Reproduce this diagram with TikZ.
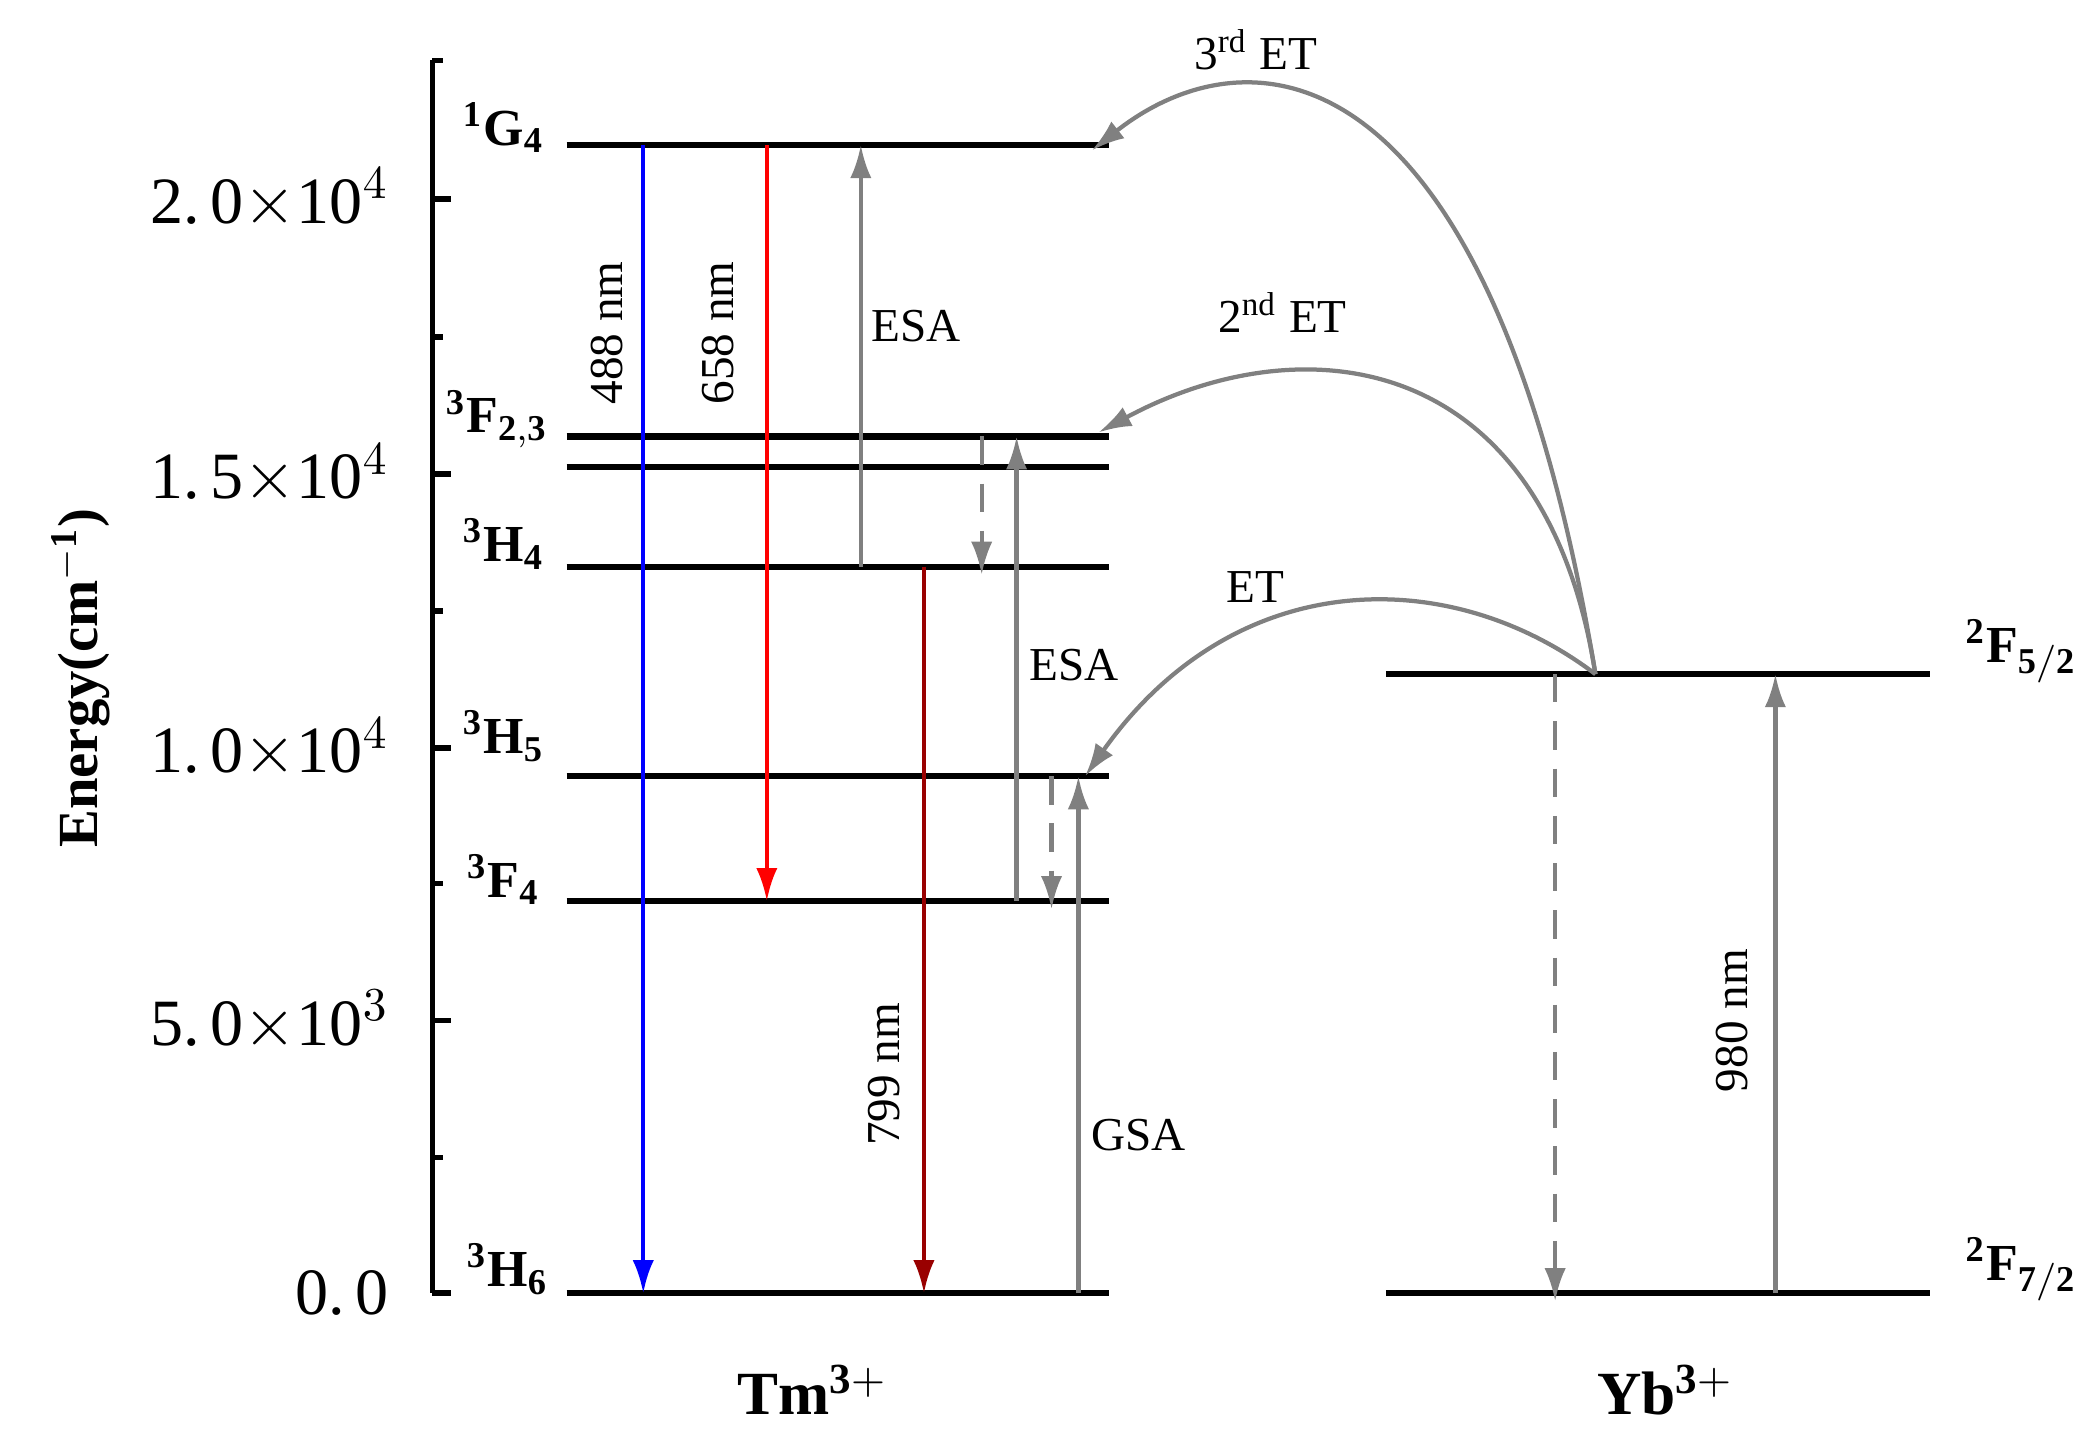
\documentclass[tikz,border=0pt]{standalone}
\usepackage{fontspec}
\setmainfont{Liberation Serif}
\usetikzlibrary{arrows.meta}
\definecolor{ag}{RGB}{128,128,128}
\begin{document}
\begin{tikzpicture}[x=0.01cm,y=-0.01cm,
 lev/.style={line width=1.3pt},
 ar/.style={line width=0.9pt,-{Latex[length=7pt,width=4.5pt]}},
 ga/.style={ar,draw=ag},
 gd/.style={ga,dashed,dash pattern=on 6pt off 4pt},
 lb/.style={font=\fontsize{11}{11}\selectfont\bfseries},
 tx/.style={font=\fontsize{10}{10}\selectfont},
 tk/.style={font=\fontsize{14}{14}\selectfont,anchor=east}]
\useasboundingbox (0,0) rectangle (1560,1077);
% axis
\draw[line width=1.2pt] (322,45) -- (322,963);
\foreach \y in {963,760,557,353,148} \draw[line width=1.2pt] (322,\y) -- (336,\y);
\foreach \y in {862,658,455,251,45} \draw[line width=1.2pt] (322,\y) -- (330,\y);
\node[tk] (t0) at (302,963) {0.\,0};
\node[tk] (t1) at (302,760) {5.\,0$\times$10$^3$};
\node[tk] (t2) at (302,557) {1.\,0$\times$10$^4$};
\node[tk] (t3) at (302,353) {1.\,5$\times$10$^4$};
\node[tk] (t4) at (302,148) {2.\,0$\times$10$^4$};
\node[rotate=90,font=\fontsize{12}{12}\selectfont\bfseries] (ax) at (60,505) {Energy(cm$^{\mathbf{-1}}$)};
% levels
\foreach \n/\y in {g/108,fa/325,fb/348,h4/422,h5/578,f4/671,h6/963}
 {\coordinate (\n L) at (422,\y); \coordinate (\n R) at (826,\y); \draw[lev] (\n L) -- (\n R);}
\coordinate (yuL) at (1032,502); \coordinate (yuR) at (1437,502);
\coordinate (ydL) at (1032,963); \coordinate (ydR) at (1437,963);
\draw[lev] (yuL) -- (yuR); \draw[lev] (ydL) -- (ydR);
% level labels
\node[lb] (l1) at (375,95) {$^{\mathbf 1}$G$_{\mathbf 4}$};
\node[lb] (l2) at (370,312) {$^{\mathbf 3}$F$_{\mathbf{2,3}}$};
\node[lb] (l3) at (375,405) {$^{\mathbf 3}$H$_{\mathbf 4}$};
\node[lb] (l4) at (375,548) {$^{\mathbf 3}$H$_{\mathbf 5}$};
\node[lb] (l5) at (375,655) {$^{\mathbf 3}$F$_{\mathbf 4}$};
\node[lb] (l6) at (378,945) {$^{\mathbf 3}$H$_{\mathbf 6}$};
\node[lb] (l7) at (1505,485) {$^{\mathbf 2}$F$_{\mathbf{5/2}}$};
\node[lb] (l8) at (1505,945) {$^{\mathbf 2}$F$_{\mathbf{7/2}}$};
\node[font=\fontsize{13}{13}\selectfont\bfseries] (tm) at (605,1035) {Tm$^{\mathbf{3+}}$};
\node[font=\fontsize{13}{13}\selectfont\bfseries] (yb) at (1240,1035) {Yb$^{\mathbf{3+}}$};
% coordinates for arrows
\coordinate (a1) at (479,108); \coordinate (a2) at (479,963);
\coordinate (b1) at (571,108); \coordinate (b2) at (571,671);
\coordinate (c1) at (641,422); \coordinate (c2) at (641,108);
\coordinate (d1) at (688,422); \coordinate (d2) at (688,963);
\coordinate (e1) at (731,325); \coordinate (e2) at (731,428);
\coordinate (f1) at (757,671); \coordinate (f2) at (757,325);
\coordinate (g1) at (783,578); \coordinate (g2) at (783,677);
\coordinate (h1) at (803,963); \coordinate (h2) at (803,578);
\coordinate (i1) at (1158,502); \coordinate (i2) at (1158,969);
\coordinate (j1) at (1322,963); \coordinate (j2) at (1322,502);
\coordinate (s) at (1188,502);
\coordinate (k1) at (808,578); \coordinate (k2) at (818,322); \coordinate (k3) at (813,112);
\draw[ar,draw=blue] (a1) -- (a2);
\draw[ar,draw=red] (b1) -- (b2);
\draw[ga] (c1) -- (c2);
\draw[ar,draw=black!40!red] (d1) -- (d2);
\draw[gd] (e1) -- (e2);
\draw[ga] (f1) -- (f2);
\draw[gd] (g1) -- (g2);
\draw[ga] (h1) -- (h2);
\draw[gd] (i1) -- (i2);
\draw[ga] (j1) -- (j2);
\draw[ga] (s) .. controls (1080,420) and (920,420) .. (k1);
\draw[ga] (s) .. controls (1150,260) and (970,240) .. (k2);
\draw[ga] (s) .. controls (1110,30) and (930,20) .. (k3);
% texts
\node[tx,rotate=90] (n1) at (452,248) {488 nm};
\node[tx,rotate=90] (n2) at (535,248) {658 nm};
\node[tx,rotate=90] (n3) at (658,800) {799 nm};
\node[tx,rotate=90] (n4) at (1290,760) {980 nm};
\node[tx] (e1t) at (682,243) {ESA};
\node[tx] (e2t) at (800,495) {ESA};
\node[tx] (gs) at (848,845) {GSA};
\node[tx] (et1) at (935,437) {ET};
\node[tx] (et2) at (955,233) {2\textsuperscript{nd} ET};
\node[tx] (et3) at (935,37) {3\textsuperscript{rd} ET};
\end{tikzpicture}
\end{document}
